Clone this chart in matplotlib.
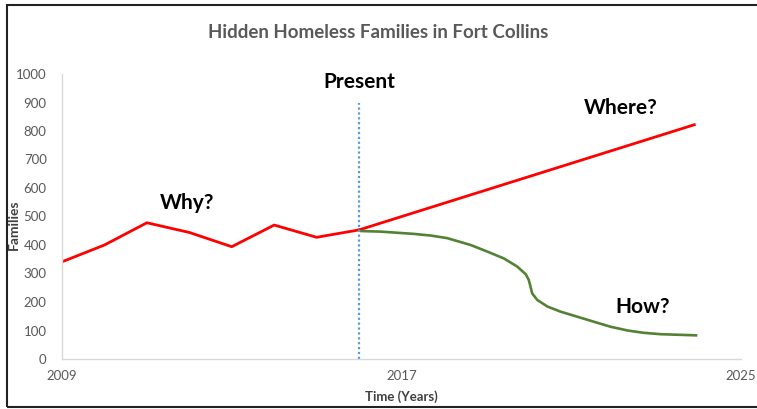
import matplotlib
matplotlib.use("Agg")
import matplotlib.pyplot as plt
from matplotlib.patches import Rectangle

plt.rcParams['font.family'] = ['Lato', 'DejaVu Sans']

# Historical data (red)
hist_years = [2009, 2010, 2011, 2012, 2013, 2014, 2015, 2016]
hist_values = [341, 400, 478, 444, 394, 470, 427, 453]

# Projection "Where?" (red)
up_years = [2016, 2023.9]
up_values = [453, 822]

# Projection "How?" (green)
down_years = [2016.05, 2016.5, 2017.29, 2017.7, 2018.08, 2018.63, 2019.02, 2019.41,
              2019.73, 2019.93, 2020.0, 2020.04, 2020.08, 2020.2, 2020.44, 2020.75,
              2021.15, 2021.55, 2021.93, 2022.33, 2022.7, 2023.11, 2023.94]
down_values = [449, 447, 439, 433, 424, 400, 377, 353,
               324, 297, 277, 254, 230, 207, 184, 166,
               148, 130, 113, 100, 92, 87, 83]

present_year = 2016
present_top = 900

x_ticks = [2009, 2017, 2025]
y_ticks = list(range(0, 1001, 100))

fig = plt.figure(figsize=(7.57, 4.09), dpi=100)
ax = fig.add_axes([62/757, 1-359/409, (741-62)/757, (359-74)/409])

ax.plot(hist_years, hist_values, color='#FF0000', lw=2.0, solid_joinstyle='round')
ax.plot(up_years, up_values, color='#FF0000', lw=2.0)
ax.plot(down_years, down_values, color='#548235', lw=1.9, solid_joinstyle='round')
ax.vlines(present_year, 0, present_top, colors='#5B9BD5', linestyles=(0, (1, 1.2)), lw=1.6)

ax.set_xlim(2009, 2025)
ax.set_ylim(0, 1000)
ax.set_xticks(x_ticks)
ax.set_yticks(y_ticks)
ax.tick_params(length=0, labelsize=9.5, labelcolor='#595959')
ax.tick_params(axis='y', pad=11)
ax.tick_params(axis='x', pad=8)
for s in ['top', 'right']:
    ax.spines[s].set_visible(False)
for s in ['left', 'bottom']:
    ax.spines[s].set_color('#D9D9D9')
    ax.spines[s].set_linewidth(1.0)

ax.set_ylabel('Families', fontsize=10, fontweight='bold', color='#404040')
ax.yaxis.set_label_coords((20-62)/679, (359-225)/285)
ax.set_xlabel('Time (Years)', fontsize=9.5, fontweight='bold', color='#404040', labelpad=6)

ax.text(2016, 972, 'Present', ha='center', va='center', fontsize=15, fontweight='bold', color='black')
ax.text(2022.17, 880, 'Where?', ha='center', va='center', fontsize=15, fontweight='bold', color='black')
ax.text(2011.94, 547, 'Why?', ha='center', va='center', fontsize=15, fontweight='bold', color='black')
ax.text(2022.68, 183, 'How?', ha='center', va='center', fontsize=15, fontweight='bold', color='black')

fig.text(378/757, 1-32/409, 'Hidden Homeless Families in Fort Collins', ha='center', va='center',
         fontsize=13.5, fontweight='bold', color='#595959')

fig.patches.append(Rectangle((7/757, 2/409), 1.0, 1-7/409, transform=fig.transFigure,
                             fill=False, edgecolor='#222222', lw=1.5, clip_on=False))

fig.savefig('out.png', dpi=100, facecolor='white')
